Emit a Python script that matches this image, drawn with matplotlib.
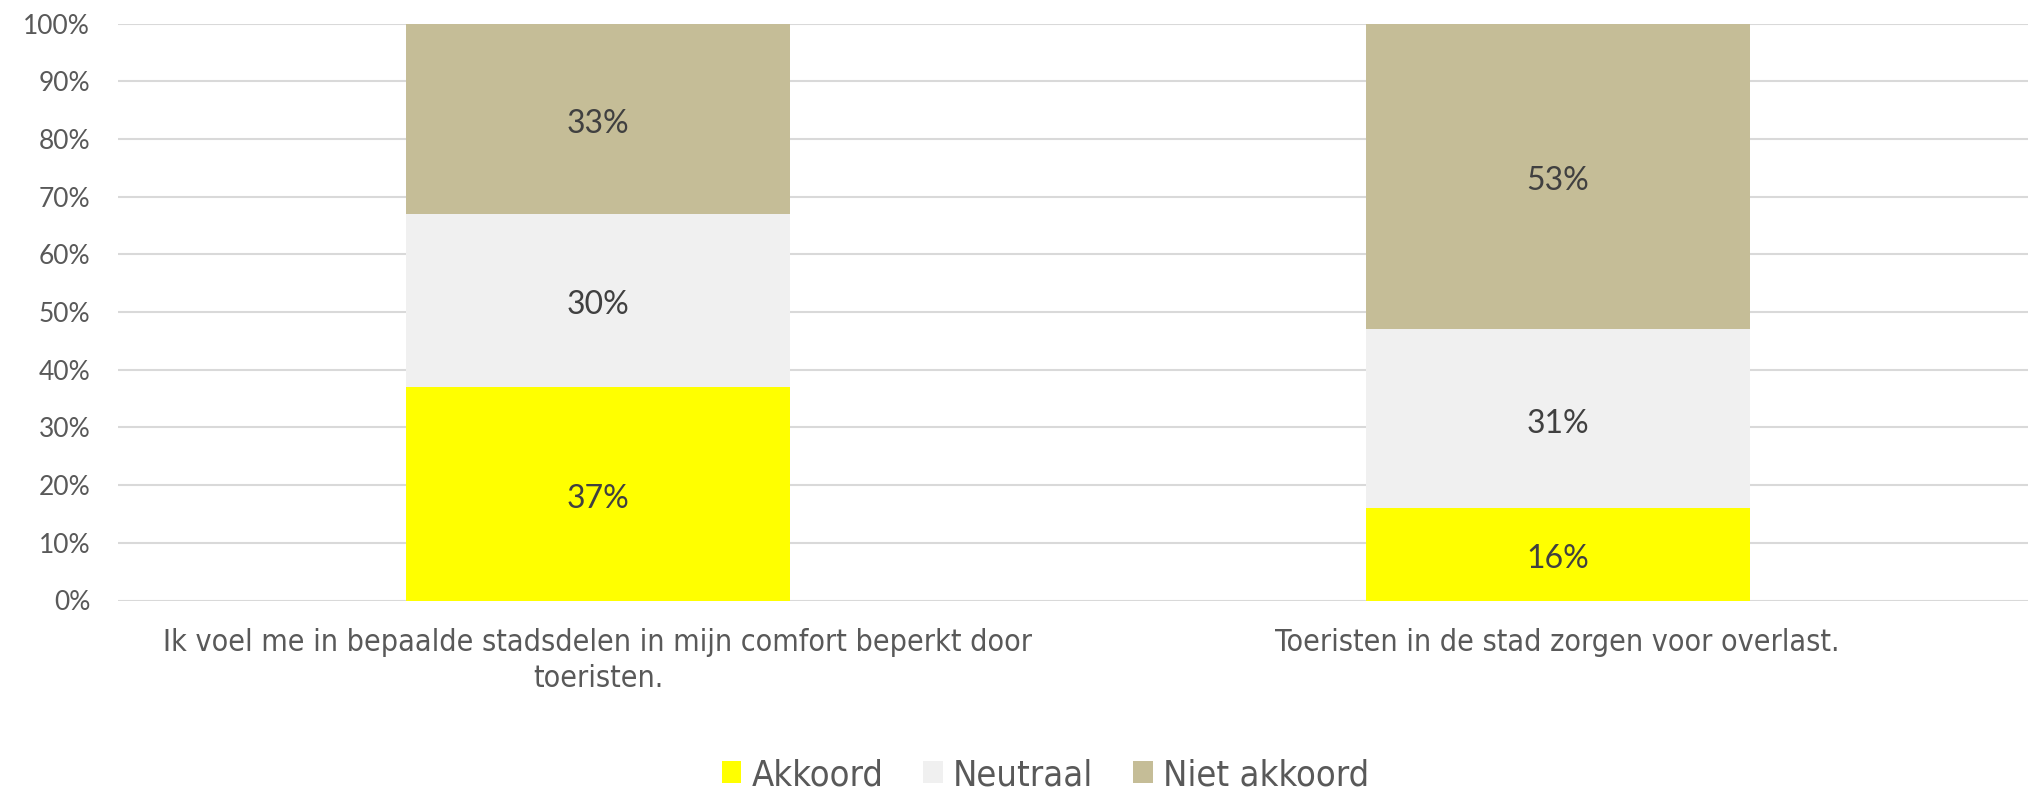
import matplotlib
matplotlib.use("Agg")
import matplotlib.pyplot as plt
from matplotlib.patches import Patch
import numpy as np

categories = ["Ik voel me in bepaalde stadsdelen in mijn comfort beperkt door\ntoeristen.",
              "Toeristen in de stad zorgen voor overlast."]
series_names = ["Akkoord", "Neutraal", "Niet akkoord"]
akkoord = [37, 16]
neutraal = [30, 31]
niet_akkoord = [33, 53]
colors = ["#FFFF00", "#F0F0F0", "#C5BD97"]

fig = plt.figure(figsize=(20.28, 7.88), dpi=100)
ax = fig.add_axes([118/2028, 1 - 600.5/788, 1 - 118/2028, (600.5 - 23.5)/788])

x = np.arange(len(categories))
bottom = np.zeros(len(categories))
for name, vals, col in zip(series_names, [akkoord, neutraal, niet_akkoord], colors):
    vals = np.array(vals, dtype=float)
    ax.bar(x, vals, 0.4, bottom=bottom, color=col, zorder=3, label=name)
    for xi, b, v in zip(x, bottom, vals):
        ax.annotate(f"{int(v)}%", (xi, b + v / 2), xytext=(0, -3.6), textcoords="offset points",
                    ha="center", va="center", fontsize=23, color="#404040",
                    family="Lato", zorder=4)
    bottom += vals

ax.set_xlim(-0.5, 1.49)
ax.set_ylim(0, 100)
ax.set_yticks(np.arange(0, 101, 10))
ax.set_yticklabels([f"{t}%" for t in range(0, 101, 10)], fontsize=19, color="#595959", family="Lato")
ax.yaxis.grid(True, color="#D9D9D9", linewidth=1.5, zorder=0)
ax.set_axisbelow(True)
for s in ax.spines.values():
    s.set_visible(False)
ax.tick_params(axis="y", length=0, pad=20)
ax.tick_params(axis="x", length=0, pad=20)
ax.set_xticks(x)
ax.set_xticklabels(categories, fontsize=21.8, color="#595959", family="DejaVu Sans",
                   fontstretch="condensed", linespacing=1.29)

handles = [Patch(facecolor=c, edgecolor="none") for c in colors]
fig.legend(handles, series_names, loc="center", bbox_to_anchor=(0.5155, 1 - 775/788),
           ncol=3, frameon=False, handlelength=0.55, handleheight=0.55,
           handletextpad=0.28, columnspacing=1.1,
           prop={"family": "DejaVu Sans", "size": 26, "stretch": "condensed"},
           labelcolor="#595959")

fig.savefig("out.png", dpi=100)
